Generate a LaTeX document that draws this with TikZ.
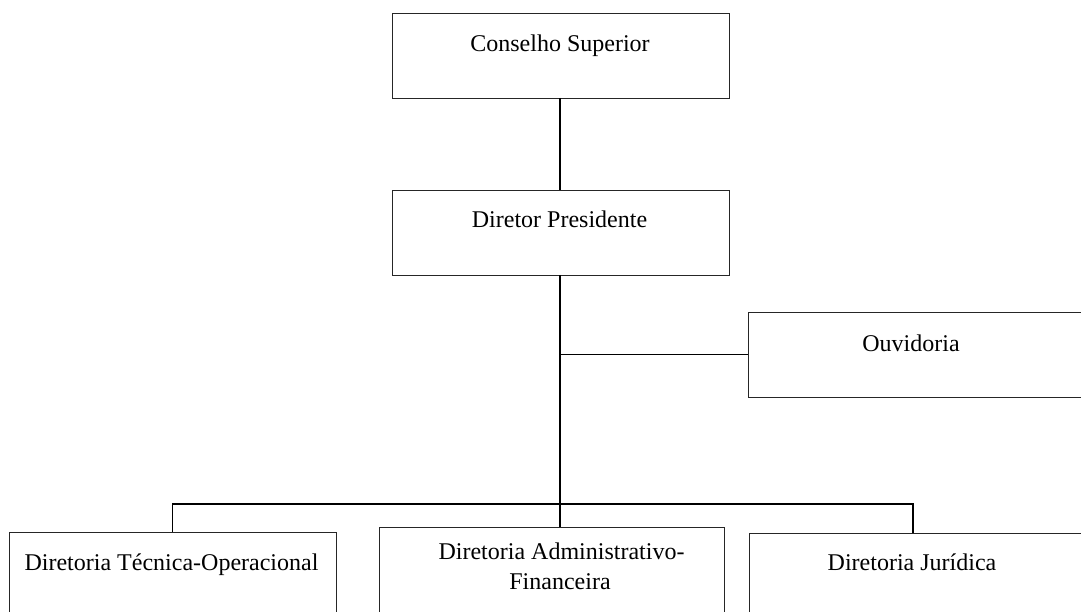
\documentclass[tikz,border=0pt]{standalone}
\usepackage{fontspec}
\setmainfont{Liberation Serif}
\begin{document}
\begin{tikzpicture}[x=1pt,y=-1pt,
  box/.style={draw=black!85, line width=0.9pt, rectangle, inner sep=0pt, outer sep=0pt, anchor=north west},
  lbl/.style={anchor=base, inner sep=0pt, font=\fontsize{24}{30}\selectfont},
  link/.style={draw=black, line width=1.4pt}]
\useasboundingbox (0,0) rectangle (1081,612);
\clip (0,0) rectangle (1081,612);
% boxes
\node[box, minimum width=337pt, minimum height=85pt] (cs) at (392,13) {};
\node[box, minimum width=337pt, minimum height=85pt] (dp) at (392,190) {};
\node[box, minimum width=352pt, minimum height=85pt] (ouv) at (748,312) {};
\node[box, minimum width=327pt, minimum height=108pt] (tec) at (9,532) {};
\node[box, minimum width=345pt, minimum height=113pt] (adm) at (379,527) {};
\node[box, minimum width=351pt, minimum height=107pt] (jur) at (749,533) {};
% texts
\node[lbl] (tcs) at (560,52) {Conselho Superior};
\node[lbl] (tdp) at (559.5,228) {Diretor Presidente};
\node[lbl] (touv) at (911,351) {Ouvidoria};
\node[lbl] (ttec) at (171.5,570) {Diretoria Técnica-Operacional};
\node[lbl] (tadm1) at (561.5,559) {Diretoria Administrativo-};
\node[lbl] (tadm2) at (560,589) {Financeira};
\node[lbl] (tjur) at (912,570) {Diretoria Jurídica};
% connectors
\coordinate (trunk) at (560,275);
\coordinate (jd) at (913,504);
\draw[link] (cs.south -| trunk) -- (dp.north -| trunk);
\draw[link] (dp.south -| trunk) -- (adm.north -| trunk);
\draw[link] (ouv.west -| trunk) -- (ouv.west);
\draw[link] (tec.north) |- (jd) -- (jur.north west -| jd);
\end{tikzpicture}
\end{document}
